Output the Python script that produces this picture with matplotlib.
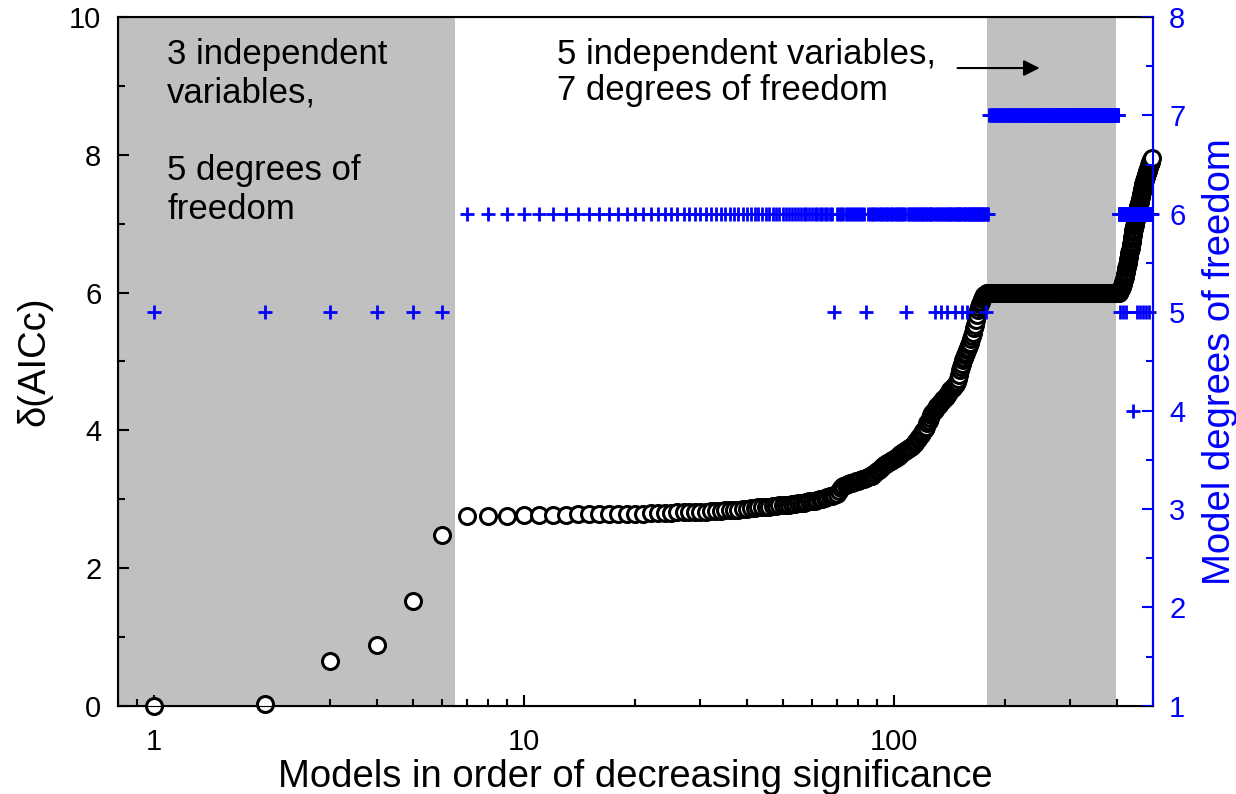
import numpy as np
import matplotlib.pyplot as plt
from matplotlib.ticker import MultipleLocator, FixedLocator, FixedFormatter, LogLocator, NullFormatter

plt.rcParams['font.family'] = ['Liberation Sans', 'DejaVu Sans']

# delta(AICc) for each model, sorted by decreasing significance
delta_first = [0.0, 0.03, 0.65, 0.88, 1.52, 2.48]
delta_flat = [2.76, 2.76, 2.76, 2.77, 2.77, 2.77, 2.77, 2.78, 2.78, 2.78,
              2.78, 2.79, 2.79, 2.79, 2.79, 2.80, 2.80, 2.80, 2.80, 2.81,
              2.81, 2.81, 2.82, 2.82, 2.82, 2.83, 2.83, 2.83, 2.84, 2.84,
              2.85, 2.85, 2.86, 2.86, 2.87, 2.87, 2.88, 2.88, 2.89, 2.89,
              2.90, 2.90, 2.91, 2.91, 2.92, 2.92, 2.93, 2.93, 2.94, 2.95,
              2.95, 2.96, 2.97, 2.97]
delta_rise = [2.98, 2.99, 3.00, 3.01, 3.02, 3.03, 3.04, 3.05, 3.06, 3.08,
              3.12, 3.16, 3.19, 3.20, 3.22, 3.23, 3.24, 3.25, 3.26, 3.27,
              3.28, 3.29, 3.30, 3.31, 3.32, 3.33, 3.34, 3.36, 3.38, 3.41,
              3.43, 3.45, 3.47, 3.49, 3.51, 3.52, 3.54, 3.55, 3.57, 3.58,
              3.60, 3.61, 3.63, 3.65, 3.67, 3.69, 3.70, 3.72, 3.73, 3.75,
              3.76, 3.78, 3.80, 3.82, 3.84, 3.87, 3.91, 3.93, 3.96, 3.99,
              4.02, 4.05, 4.10, 4.14, 4.18, 4.22, 4.25, 4.28, 4.30, 4.33,
              4.35, 4.37, 4.39, 4.41, 4.43, 4.45, 4.47, 4.49, 4.51, 4.53,
              4.56, 4.58, 4.60, 4.62, 4.64, 4.66, 4.68, 4.70, 4.75, 4.81,
              4.87, 4.92, 4.97, 5.02, 5.05, 5.09, 5.12, 5.16, 5.20, 5.24,
              5.27, 5.32, 5.37, 5.42, 5.48, 5.53, 5.60, 5.68, 5.75, 5.79,
              5.83, 5.87, 5.91, 5.94, 5.96, 5.97, 5.98, 5.99, 5.99, 6.00]
delta_plateau = [6.00] * 225
delta_tail = [6.01, 6.02, 6.03, 6.04, 6.05, 6.06, 6.07, 6.08, 6.10, 6.12,
              6.14, 6.16, 6.18, 6.20, 6.22, 6.24, 6.27, 6.30, 6.32, 6.35,
              6.37, 6.40, 6.43, 6.46, 6.49, 6.52, 6.55, 6.57, 6.60, 6.62,
              6.65, 6.68, 6.71, 6.74, 6.78, 6.81, 6.84, 6.88, 6.91, 6.93,
              6.96, 6.98, 7.01, 7.03, 7.06, 7.08, 7.11, 7.13, 7.15, 7.18,
              7.20, 7.23, 7.25, 7.27, 7.30, 7.32, 7.34, 7.36, 7.39, 7.41,
              7.43, 7.46, 7.48, 7.50, 7.52, 7.55, 7.57, 7.59, 7.61, 7.62,
              7.64, 7.65, 7.67, 7.68, 7.70, 7.71, 7.73, 7.74, 7.76, 7.77,
              7.79, 7.80, 7.82, 7.83, 7.85, 7.86, 7.87, 7.89, 7.90, 7.92,
              7.93, 7.95]

# model degrees of freedom: 6 unless listed below
dof_five_models = [1, 2, 3, 4, 5, 6, 69, 84, 108, 129, 134, 139, 146, 153,
                   158, 177, 408, 416, 424, 454, 463, 471, 481, 490]
dof_four_models = [443]
dof_seven_first, dof_seven_last = 181, 404

delta = np.array(delta_first + delta_flat + delta_rise + delta_plateau + delta_tail)
n_models = len(delta)
models = np.arange(1, n_models + 1)

dof = np.full(n_models, 6)
dof[np.array(dof_five_models) - 1] = 5
dof[np.array(dof_four_models) - 1] = 4
dof[dof_seven_first - 1:dof_seven_last] = 7

fig = plt.figure(figsize=(12.36, 7.94), dpi=100)
ax = fig.add_axes([0.0955, 0.111, 0.837, 0.8675])

# shaded blocks
ax.axvspan(0.8, 6.5, color='#c0c0c0', lw=0, zorder=0)
ax.axvspan(178, 398, color='#c0c0c0', lw=0, zorder=0)

ax.plot(models, delta, 'o', ms=11.5, mfc='white', mec='black', mew=2.2,
        clip_on=False, zorder=3)

ax.set_xscale('log')
ax.set_xlim(0.8, 500)
ax.set_ylim(0, 10)
ax.xaxis.set_major_locator(FixedLocator([1, 10, 100]))
ax.xaxis.set_major_formatter(FixedFormatter(['1', '10', '100']))
ax.xaxis.set_minor_locator(LogLocator(base=10, subs=np.arange(2, 10), numticks=20))
ax.xaxis.set_minor_formatter(NullFormatter())
ax.yaxis.set_major_locator(MultipleLocator(2))
ax.yaxis.set_minor_locator(MultipleLocator(1))

ax.tick_params(which='both', direction='in', labelsize=21, top=False, right=False, width=1.5)
ax.tick_params(which='major', length=8)
ax.tick_params(axis='x', which='major', pad=16)
ax.tick_params(axis='y', which='major', pad=12)
ax.tick_params(which='minor', length=5)
for s in ax.spines.values():
    s.set_linewidth(1.5)

ax.set_xlabel('Models in order of decreasing significance', fontsize=27.5, labelpad=2)
ax.set_ylabel('δ(AICc)', fontsize=27.5, labelpad=12)

ax.text(1.085, 9.7, '3 independent\nvariables,\n\n5 degrees of\nfreedom',
        fontsize=25, va='top', ha='left', linespacing=1.22)
ax.text(12.3, 9.7, '5 independent variables,\n7 degrees of freedom',
        fontsize=25, va='top', ha='left', linespacing=1.12)
ax.annotate('', xy=(252, 9.26), xytext=(146, 9.26),
            arrowprops=dict(arrowstyle='-|>', color='black', lw=1.5, mutation_scale=24))

# degrees of freedom on the right axis
ax2 = ax.twinx()
ax2.plot(models, dof, '+', color='blue', ms=10, mew=2, clip_on=False)
ax2.set_ylim(1, 8)
ax2.yaxis.set_major_locator(MultipleLocator(1))
ax2.yaxis.set_minor_locator(MultipleLocator(0.5))
ax2.tick_params(which='both', direction='in', colors='blue', labelsize=21, width=1.5)
ax2.tick_params(which='major', length=8, pad=12)
ax2.tick_params(which='minor', length=5)
ax2.spines['right'].set_color('blue')
ax2.spines['right'].set_linewidth(1.5)
ax2.set_ylabel('Model degrees of freedom', fontsize=27.5, color='blue', labelpad=12)

fig.savefig('out.png', dpi=100)
